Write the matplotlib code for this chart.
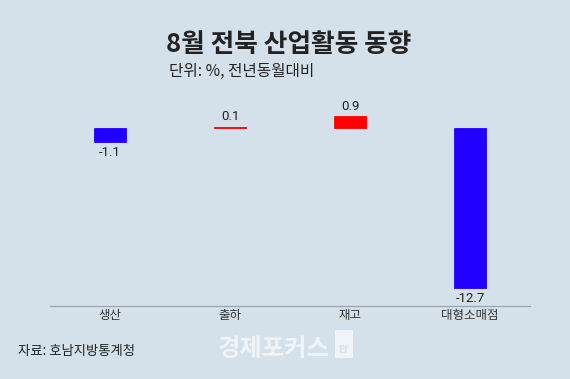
import matplotlib.pyplot as plt
from matplotlib.patches import Rectangle

plt.rcParams['font.family'] = ['Noto Sans CJK KR', 'DejaVu Sans']

categories = ['생산', '출하', '재고', '대형소매점']
values = [-1.1, 0.1, 0.9, -12.7]
title = '8월 전북 산업활동 동향'
subtitle = '단위: %, 전년동월대비'
source = '자료: 호남지방통계청'

bg = '#d5e1ea'
blue = '#2200ff'
red = '#ff0000'

fig = plt.figure(figsize=(5.7, 3.79), dpi=100, facecolor=bg)
ax = fig.add_axes([50 / 570, 1 - 306 / 379, 480 / 570, 216 / 379])
ax.set_facecolor(bg)

colors = [blue if v < 0 else red for v in values]
x = range(len(categories))
ax.bar(x, values, width=0.27, color=colors, edgecolor=colors, linewidth=0.6)

num_font = ['Roboto', 'Noto Sans CJK KR']
for i, v in enumerate(values):
    if v < 0:
        ax.text(i, v - 0.35, f'{v}', ha='center', va='top', fontsize=9.5,
                color='#222222', family=num_font)
    else:
        ax.text(i, v + 0.3, f'{v}', ha='center', va='bottom', fontsize=9.5,
                color='#222222', family=num_font)

ax.set_xlim(-0.5, 3.5)
ax.set_ylim(-14.13, 3.0)
ax.set_xticks(list(x))
ax.set_xticklabels(categories, fontsize=9, color='#333333')
ax.tick_params(axis='x', length=0, pad=2)
ax.set_yticks([])
for s in ['top', 'right', 'left']:
    ax.spines[s].set_visible(False)
ax.spines['bottom'].set_color('#9aa5ae')
ax.spines['bottom'].set_linewidth(0.9)

fig.text(166 / 570, 1 - 44 / 379, title, fontsize=18.5, fontweight='bold',
         color='#222222', va='center', ha='left')
fig.text(169 / 570, 1 - 71 / 379, subtitle, fontsize=11.3,
         color='#222222', va='center', ha='left')
fig.text(18 / 570, 1 - 351 / 379, source, fontsize=9.6,
         color='#222222', va='center', ha='left')

# watermark
fig.text(218 / 570, 1 - 349 / 379, '경제포커스', fontsize=17.5, fontweight='bold',
         color='white', alpha=0.65, va='center', ha='left')
fig.patches.append(Rectangle((335 / 570, 1 - 358 / 379), 18 / 570, 28 / 379,
                             transform=fig.transFigure, facecolor='white',
                             alpha=0.65, edgecolor='none'))
fig.text(338 / 570, 1 - 350 / 379, 'Ef', fontsize=7, fontweight='bold',
         color=bg, va='center', ha='left')

fig.savefig('out.png', dpi=100, facecolor=bg)
